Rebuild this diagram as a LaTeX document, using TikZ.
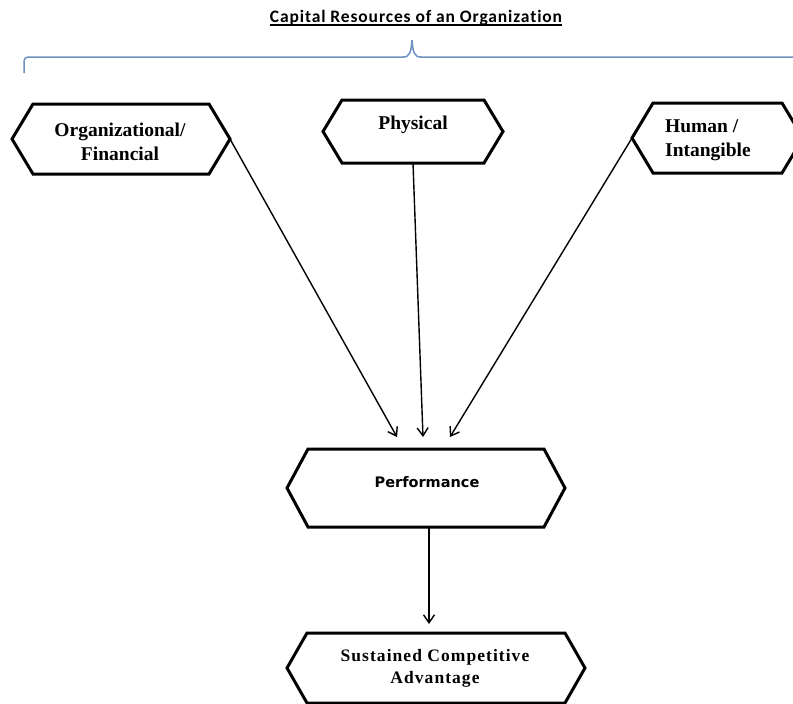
\documentclass[tikz,border=0pt]{standalone}
\usepackage{fontspec}
\setmainfont{Liberation Serif}
\newfontfamily\titlefont[LetterSpace=5,Ligatures=NoCommon]{Carlito}
\newfontfamily\perffont{DejaVu Sans}
\newfontfamily\spacedserif[LetterSpace=6]{Liberation Serif}
\usetikzlibrary{arrows.meta}
\definecolor{bracecol}{RGB}{110,145,192}
\newcommand\hexa[6]{%
  \coordinate (#1-L) at (#2,{(#4+#5)/2});
  \coordinate (#1-R) at (#3,{(#4+#5)/2});
  \draw[hexline] (#1-L) -- (#2+#6,#4) -- (#3-#6,#4) -- (#1-R) -- (#3-#6,#5) -- (#2+#6,#5) -- cycle;
}
\begin{document}
\begin{tikzpicture}[x=1pt,y=-1pt,
  hexline/.style={line width=3pt,line join=miter,black},
  toptext/.style={font=\fontsize{19.5}{23.5}\selectfont\bfseries,inner sep=0pt},
  conn/.style={line width=1.4pt,-{Straight Barb[length=8pt,width=11pt,line width=1.4pt]}},
  bracestyle/.style={line width=1.5pt,bracecol,rounded corners=4pt}]
\useasboundingbox (0,0) rectangle (793,704);
% title
\node[font=\titlefont\bfseries\fontsize{17.5}{20}\selectfont,inner sep=0pt,anchor=base] (title) at (416,22) {Capital Resources of an Organization};
\draw[line width=1.3pt] ([yshift=-3pt]title.base west) -- ([yshift=-3pt]title.base east);
% brace
\draw[bracestyle] (24,73) -- (24,57) -- (404,57);
\draw[line width=1.5pt,bracecol] (403,57) .. controls (410,57) and (411,52) .. (412,40) .. controls (413,52) and (414,57) .. (421,57);
\draw[bracestyle] (420,57) -- (800,57) -- (800,73);
% hexagons
\hexa{org}{12}{230}{104}{174}{21}
\hexa{phys}{323}{503}{100}{163}{19}
\hexa{hum}{632}{803}{103}{173}{21}
\hexa{perf}{287}{565}{449}{527}{21}
\hexa{sca}{287}{585}{633}{703}{20}
% texts
\node[toptext,align=center] (orgt) at (120,142) {Organizational/\\Financial};
\node[toptext] (physt) at (413,125) {Physical};
\node[toptext,align=left,anchor=west] (humt) at (665,140) {Human /\\Intangible};
\node[font=\perffont\bfseries\fontsize{14.5}{17}\selectfont,inner sep=0pt] (perft) at (427,482) {Performance};
\node[font=\spacedserif\bfseries\fontsize{17.5}{22}\selectfont,inner sep=0pt,align=center] (scat) at (435,668) {Sustained Competitive\\Advantage};
% connector ends
\coordinate (phys-B) at (413,163);
\coordinate (perf-B) at (429,527);
\coordinate (t1) at (397,437);
\coordinate (t2) at (423,437);
\coordinate (t3) at (450,437);
\coordinate (t4) at (429,624);
\draw[conn] (org-R) -- (t1);
\draw[conn] (phys-B) -- (t2);
\draw[conn] (hum-L) -- (t3);
\draw[conn] (perf-B) -- (t4);
\end{tikzpicture}
\end{document}
